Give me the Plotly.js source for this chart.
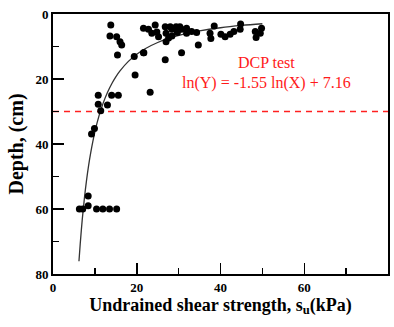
<!DOCTYPE html>
<html>
<head>
<meta charset="utf-8">
<script src="https://cdn.plot.ly/plotly-3.0.1.min.js"></script>
<style>html,body{margin:0;padding:0;background:#fff;}#chart{width:394px;height:327px;}</style>
</head>
<body>
<div id="chart"></div>
<script>
// Measured points: undrained shear strength su (kPa) and depth (cm)
const suValues = [
  13.8, 13.6, 15.2, 16.0, 16.4, 15.4, 19.4, 21.7, 19.6, 23.2,
  10.8, 14.0, 15.6, 10.8, 13.0, 11.4, 9.9, 9.2,
  21.6, 22.8, 23.6, 24.4, 24.8, 25.2, 26.8, 27.0, 27.0, 27.6, 28.0, 28.4, 28.4,
  29.4, 29.7, 30.3, 30.7, 31.9, 31.9, 33.1, 26.8, 30.7, 34.3, 34.7,
  37.5, 37.7, 38.5, 40.1, 41.1, 42.3, 43.2, 44.8, 44.7, 48.3, 48.5, 49.5, 49.8, 21.6,
  6.3, 7.1, 8.4, 8.4, 10.4, 11.9, 13.5, 15.2
];
const depthValues = [
  3.4, 6.8, 7.0, 8.5, 9.5, 12.6, 13.1, 11.9, 18.8, 24.1,
  25.0, 25.0, 25.0, 27.8, 28.0, 29.8, 35.2, 36.9,
  4.4, 4.7, 5.9, 3.4, 5.5, 7.0, 3.9, 5.9, 8.5, 7.4, 3.9, 4.7, 6.8,
  3.9, 5.7, 3.9, 4.7, 4.4, 5.9, 5.4, 14.1, 11.9, 5.7, 9.5,
  5.9, 7.5, 3.7, 6.2, 7.0, 6.2, 5.4, 3.1, 4.7, 5.4, 7.2, 5.9, 4.4, 11.9,
  60.0, 60.0, 56.0, 59.0, 60.0, 60.0, 60.0, 60.0
];
// Fitted relation shown on the chart: ln(Y) = -1.55 ln(X) + 7.16
const fitSlope = -1.55;
const fitIntercept = 7.16;
const fitSu = [6.2, 6.5, 7, 7.5, 8, 8.5, 9, 10, 11, 12, 13, 14, 15, 16, 18, 20, 22, 25, 28, 31, 35, 40, 45, 50];
const fitDepth = fitSu.map(x => Math.exp(fitSlope * Math.log(x) + fitIntercept));
// Threshold line depth (cm)
const dcpDepth = [30, 30];
const dcpSu = [0, 80];
const xTicks = [0, 20, 40, 60, 80];
const yTicks = [0, 20, 40, 60, 80];

const serif = "'Liberation Serif', 'Times New Roman', serif";

const traces = [
  {x: dcpSu, y: dcpDepth, mode: 'lines', line: {color: '#ff2020', width: 1.5, dash: '6px,5px'}, hoverinfo: 'skip'},
  {x: fitSu, y: fitDepth, mode: 'lines', line: {color: '#333', width: 1.3, shape: 'spline'}, hoverinfo: 'skip'},
  {x: suValues, y: depthValues, mode: 'markers', marker: {color: '#000', size: 7}}
];

const axisCommon = {
  showgrid: false, zeroline: false, showline: true, mirror: true,
  linecolor: '#000', linewidth: 2, ticks: 'inside', ticklen: 11, tickwidth: 1.5, tickcolor: '#000',
  tickfont: {family: serif, size: 13, color: '#000', weight: 'bold'},
  minor: {ticks: 'inside', ticklen: 6, tickwidth: 1.5, tickcolor: '#000', dtick: 10},
  tickmode: 'array'
};

const layout = {
  width: 394, height: 327,
  margin: {l: 53, r: 6, t: 14, b: 53},
  paper_bgcolor: '#fff', plot_bgcolor: '#fff',
  showlegend: false,
  xaxis: Object.assign({}, axisCommon, {
    range: [0, 80], tickvals: xTicks, ticktext: xTicks.map(String),
    title: {text: 'Undrained shear strength, s<sub>u</sub>(kPa)', font: {family: serif, size: 18, color: '#000', weight: 'bold'}, standoff: 4}
  }),
  yaxis: Object.assign({}, axisCommon, {
    range: [80, 0], tickvals: yTicks, ticktext: yTicks.map(String),
    title: {text: 'Depth, (cm)', font: {family: serif, size: 20, color: '#000', weight: 'bold'}, standoff: 6}
  }),
  annotations: [
    {x: 51.1, y: 14.8, xref: 'x', yref: 'y', text: 'DCP test', showarrow: false,
     font: {family: serif, size: 16, color: '#ff1a1a'}},
    {x: 51.0, y: 21.2, xref: 'x', yref: 'y', text: 'ln(Y) = -1.55 ln(X) + 7.16', showarrow: false,
     font: {family: serif, size: 16, color: '#ff1a1a'}}
  ]
};

Plotly.newPlot('chart', traces, layout, {displayModeBar: false, staticPlot: true});
</script>
</body>
</html>
